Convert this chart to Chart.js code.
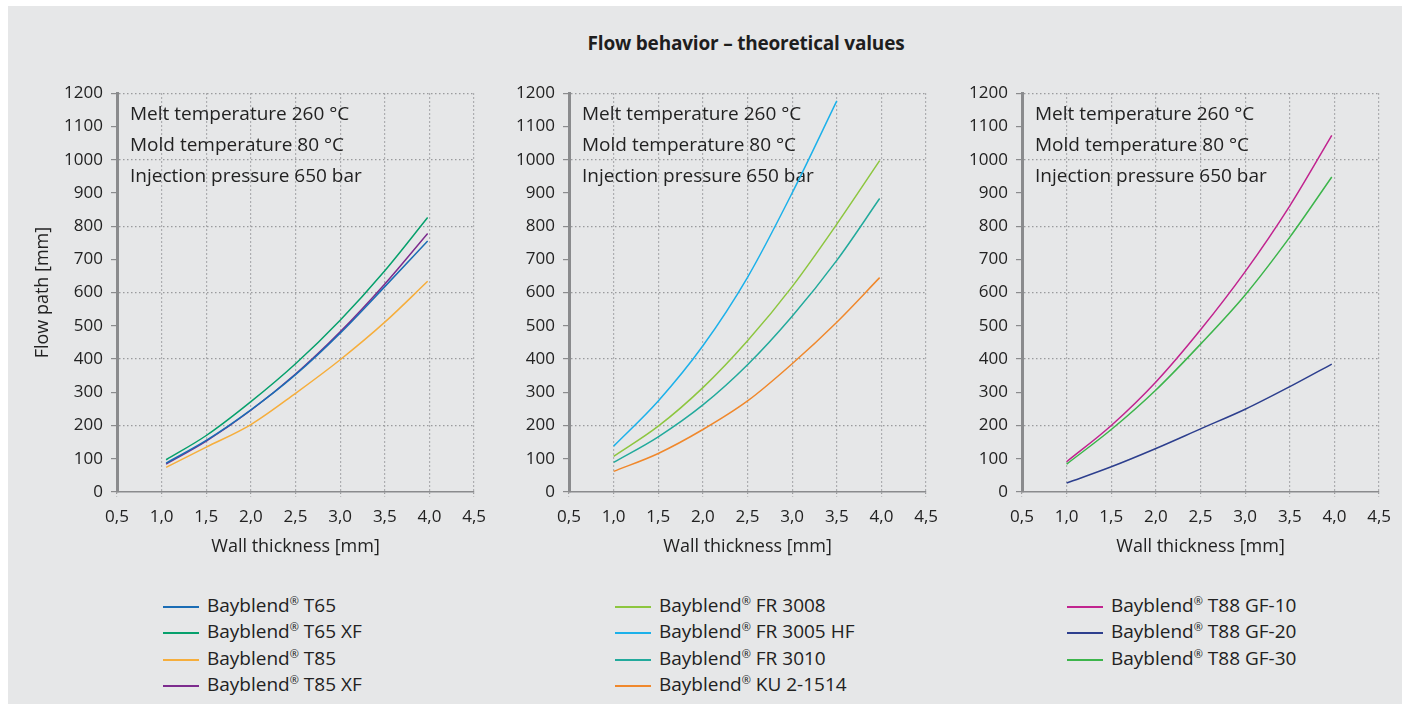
<!DOCTYPE html>
<html>
<head>
<meta charset="utf-8">
<script src="https://cdn.jsdelivr.net/npm/chart.js@4"></script>
<style>
  html, body { margin: 0; padding: 0; background: #fff; }
  #page { position: absolute; left: 8px; top: 6px; width: 1394px; height: 698px; background: #e6e7e8; }
  .cv { position: absolute; }
  #title { position: absolute; left: 0; top: 30px; width: 1402px; text-align: center; padding-left: 90px; box-sizing: border-box;
    font: bold 19px "Open Sans", sans-serif; color: #1e1e1e; letter-spacing: -0.2px; }
  .legend { position: absolute; top: 592px; font: 19px "Open Sans", sans-serif; color: #222; }
  .legend div { height: 26.4px; line-height: 26.4px; white-space: nowrap; }
  .legend span.ln { display: inline-block; width: 36px; height: 2px; vertical-align: middle; margin-right: 8px; }
  .legend sup { font-size: 11px; vertical-align: 7px; line-height: 0; }
</style>
</head>
<body>
<div id="page"></div>
<div id="title">Flow behavior – theoretical values</div>
<canvas id="c1" class="cv"></canvas>
<canvas id="c2" class="cv"></canvas>
<canvas id="c3" class="cv"></canvas>
<div id="lg1" class="legend" style="left:163px"></div>
<div id="lg2" class="legend" style="left:615px"></div>
<div id="lg3" class="legend" style="left:1067px"></div>
<script>
// Wall thickness [mm]
const espessura1 = [1.05, 1.5, 2.0, 2.5, 3.0, 3.5, 3.98];
const espessura2 = [1.0, 1.5, 2.0, 2.5, 3.0, 3.5, 3.98];
const espessura3 = [1.0, 1.5, 2.0, 2.5, 3.0, 3.5, 3.97];

// Flow path [mm]
const t65 = [87, 155, 247, 353, 478, 618, 755];
const t65xf = [97, 170, 272, 386, 517, 666, 826];
const t85 = [74, 135, 203, 297, 398, 511, 634];
const t85xf = [84, 153, 246, 355, 482, 626, 778];

const fr3008 = [107, 198, 314, 455, 618, 806, 997];
const fr3005hf = [138, 274, 440, 646, 900, 1177];
const fr3010 = [89, 166, 262, 383, 529, 697, 883];
const ku2_1514 = [62, 116, 188, 274, 386, 511, 645];

const gf10 = [91, 200, 331, 488, 663, 861, 1073];
const gf20 = [27, 76, 131, 190, 249, 317, 385];
const gf30 = [84, 188, 307, 445, 593, 767, 948];

const nomes1 = ["T65", "T65 XF", "T85", "T85 XF"];
const nomes2 = ["FR 3008", "FR 3005 HF", "FR 3010", "KU 2-1514"];
const nomes3 = ["T88 GF-10", "T88 GF-20", "T88 GF-30"];

const textoCondicoes = ["Melt temperature 260 °C", "Mold temperature 80 °C", "Injection pressure 650 bar"];
const xTicks = [0.5, 1.0, 1.5, 2.0, 2.5, 3.0, 3.5, 4.0, 4.5];

const FONTE = "'Open Sans', sans-serif";
const CINZA = "#8a8b8d";

function pontos(xs, ys) {
    return ys.map((y, i) => ({ x: xs[i], y: y }));
}

// text block with the processing conditions
const condicoesPlugin = {
    id: "condicoes",
    beforeDatasetsDraw(chart) {
        const ctx = chart.ctx;
        const area = chart.chartArea;
        ctx.save();
        ctx.font = "19px 'Open Sans', sans-serif";
        ctx.fillStyle = "#222";
        ctx.textBaseline = "middle";
        textoCondicoes.forEach((t, i) => {
            ctx.fillText(t, area.left + 13, area.top + 21 + i * 31);
        });
        ctx.restore();
    },
};

function criarGrafico(id, canvasLeft, yWidth, comTitulo, series) {
    const canvas = document.getElementById(id);
    const largura = yWidth + 359 + 20;
    const altura = 15 + 403 + 76;
    canvas.style.left = canvasLeft + "px";
    canvas.style.top = "75px";
    canvas.style.width = largura + "px";
    canvas.style.height = altura + "px";
    canvas.width = largura;
    canvas.height = altura;

    new Chart(canvas, {
        type: "line",
        data: {
            datasets: series.map((s) => ({
                label: s.nome,
                data: pontos(s.x, s.y),
                borderColor: s.cor,
                borderWidth: 1.5,
                pointRadius: 0,
                fill: false,
                cubicInterpolationMode: "monotone",
            })),
        },
        options: {
            responsive: false,
            animation: false,
            layout: { padding: { top: 15, right: 20, bottom: 0, left: 0 } },
            plugins: { legend: { display: false }, tooltip: { enabled: false } },
            scales: {
                x: {
                    type: "linear",
                    min: 0.5,
                    max: 4.5,
                    afterBuildTicks: (axis) => { axis.ticks = xTicks.map((v) => ({ value: v })); },
                    afterFit: (axis) => { axis.height = 77; },
                    ticks: {
                        autoSkip: false,
                        maxRotation: 0,
                        padding: 10,
                        color: "#222",
                        font: { family: FONTE, size: 17 },
                        callback: (v) => v.toFixed(1).replace(".", ","),
                    },
                    grid: {
                        color: (c) => (c.tick && c.tick.value > 0.5 ? "#9a9b9d" : "transparent"),
                        lineWidth: 1.2,
                        tickLength: 5,
                        tickColor: "#9a9b9d",
                        tickBorderDash: [1.5, 2.5],
                    },
                    border: { color: CINZA, width: 1.5, dash: [1.5, 2.5] },
                    title: {
                        display: true,
                        text: "Wall thickness [mm]",
                        color: "#222",
                        font: { family: FONTE, size: 18 },
                        padding: { top: 0, bottom: 11 },
                    },
                },
                y: {
                    min: 0,
                    max: 1200,
                    afterFit: (axis) => { axis.width = yWidth; },
                    ticks: {
                        stepSize: 100,
                        padding: 8,
                        color: "#222",
                        font: { family: FONTE, size: 17 },
                        callback: (v) => String(v),
                    },
                    grid: {
                        color: (c) => (c.tick && c.tick.value > 0 && c.tick.value % 200 === 0 ? "#9a9b9d" : "transparent"),
                        lineWidth: 1.2,
                        tickLength: 6,
                        tickColor: CINZA,
                    },
                    border: { color: CINZA, width: 3, dash: [1.5, 2.5] },
                    title: {
                        display: comTitulo,
                        text: "Flow path [mm]",
                        color: "#222",
                        font: { family: FONTE, size: 18 },
                        padding: { top: 22, bottom: 0 },
                    },
                },
            },
        },
        plugins: [condicoesPlugin],
    });
}

function criarLegenda(id, nomes, cores) {
    const el = document.getElementById(id);
    el.innerHTML = nomes
        .map((n, i) => `<div><span class="ln" style="background:${cores[i]}"></span>Bayblend<sup>®</sup> ${n}</div>`)
        .join("");
}

const cores1 = ["#1b6db5", "#06a06c", "#f6ae3c", "#7d2c8e"];
const cores2 = ["#8dc63f", "#1cb1ea", "#22aa9c", "#f0882c"];
const cores3 = ["#c1248f", "#2d3f8e", "#3cb54b"];

criarGrafico("c1", 10, 107, true, [
    { nome: nomes1[0], x: espessura1, y: t65, cor: cores1[0] },
    { nome: nomes1[1], x: espessura1, y: t65xf, cor: cores1[1] },
    { nome: nomes1[2], x: espessura1, y: t85, cor: cores1[2] },
    { nome: nomes1[3], x: espessura1, y: t85xf, cor: cores1[3] },
]);
criarGrafico("c2", 509, 60, false, [
    { nome: nomes2[0], x: espessura2, y: fr3008, cor: cores2[0] },
    { nome: nomes2[1], x: espessura2, y: fr3005hf, cor: cores2[1] },
    { nome: nomes2[2], x: espessura2, y: fr3010, cor: cores2[2] },
    { nome: nomes2[3], x: espessura2, y: ku2_1514, cor: cores2[3] },
]);
criarGrafico("c3", 962, 60, false, [
    { nome: nomes3[0], x: espessura3, y: gf10, cor: cores3[0] },
    { nome: nomes3[1], x: espessura3, y: gf20, cor: cores3[1] },
    { nome: nomes3[2], x: espessura3, y: gf30, cor: cores3[2] },
]);

criarLegenda("lg1", nomes1, cores1);
criarLegenda("lg2", nomes2, cores2);
criarLegenda("lg3", nomes3, cores3);
</script>
</body>
</html>
